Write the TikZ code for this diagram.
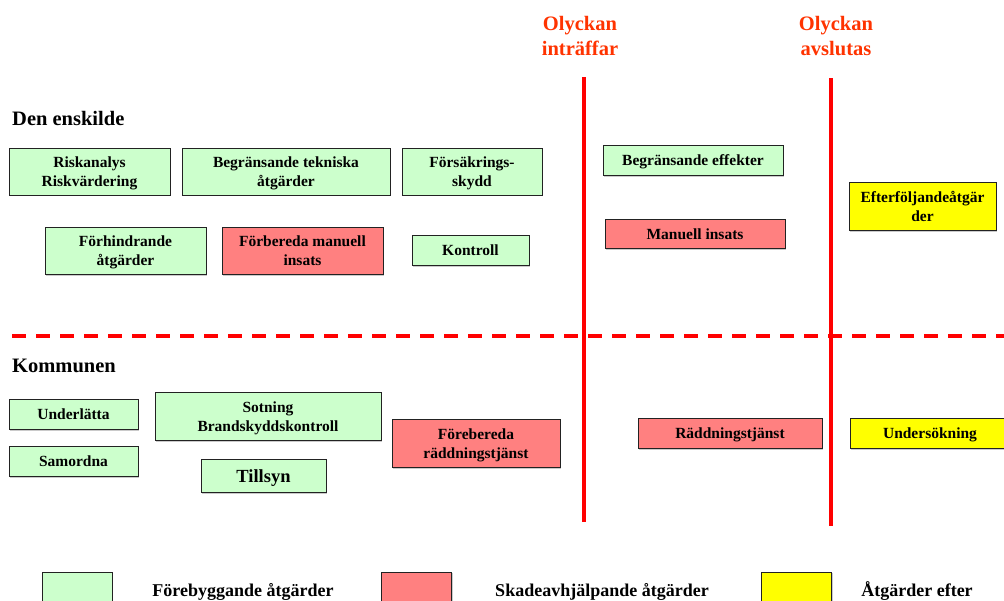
\documentclass[tikz,border=0pt]{standalone}
\usepackage{fontspec}
\setmainfont{Liberation Serif}
\usetikzlibrary{shadows}
\definecolor{pgreen}{HTML}{CCFFCC}
\definecolor{pred}{HTML}{FF8080}
\definecolor{pyellow}{HTML}{FFFF00}
\definecolor{ttl}{HTML}{FF3300}
\definecolor{bdr}{HTML}{222222}
\tikzset{
  box/.style={draw=bdr, line width=1pt, align=center, inner sep=2pt, text depth=0pt,
    font=\fontsize{15.5}{19}\selectfont\bfseries,
    drop shadow={shadow xshift=1.2pt, shadow yshift=-1.2pt, fill=black!35, opacity=0.6}},
  gbox/.style={box, fill=pgreen},
  rbox/.style={box, fill=pred},
  ybox/.style={box, fill=pyellow},
  sz/.style 2 args={minimum width=#1pt, minimum height=#2pt},
  ttlstyle/.style={text=ttl, align=center, font=\fontsize{20.5}{25}\selectfont\bfseries},
  head/.style={anchor=west, inner sep=0pt, font=\fontsize{20.5}{24}\selectfont\bfseries},
  legtext/.style={font=\fontsize{18}{22}\selectfont\bfseries},
  timeline/.style={red, line width=4pt},
  divider/.style={red, line width=4pt, dash pattern=on 14pt off 10pt}
}
\begin{document}
\begin{tikzpicture}[x=1pt,y=-1pt]
\useasboundingbox (0,0) rectangle (1004,600);
\clip (0,0) rectangle (1004,600);
% timelines
\coordinate (t1top) at (584,77);
\coordinate (t1bot) at (584,522);
\coordinate (t2top) at (831,78);
\coordinate (t2bot) at (831,526);
\coordinate (dl) at (12,336);
\coordinate (dr) at (1010,336);
\draw[divider] (dl) -- (dr);
\draw[timeline] (t1top) -- (t1bot);
\draw[timeline] (t2top) -- (t2bot);
% titles
\node[ttlstyle] (olinn) at (580,36) {Olyckan\\inträffar};
\node[ttlstyle] (olavs) at (836,36) {Olyckan\\avslutas};
\node[head] (enskilde) at (12,118) {Den enskilde};
\node[head] (kommunen) at (12,366) {Kommunen};
% den enskilde
\node[gbox, sz={161}{47}] (risk) at (89.5,171.5) {Riskanalys\\Riskvärdering};
\node[gbox, sz={208}{47}] (tek) at (286,171.5) {Begränsande tekniska\\åtgärder};
\node[gbox, sz={140}{47}] (fors) at (472,171.5) {Försäkrings-\\skydd};
\node[gbox, sz={161}{47}] (forh) at (125.5,251) {Förhindrande\\åtgärder};
\node[rbox, sz={161}{47}] (forb) at (302.5,251) {Förbereda manuell\\insats};
\node[gbox, sz={117}{30}] (kontroll) at (470.5,250.5) {Kontroll};
\node[gbox, sz={180}{30}] (begeff) at (693,160.5) {Begränsande effekter};
\node[rbox, sz={180}{29}] (manuell) at (695,234) {Manuell insats};
\node[ybox, sz={147}{48}] (efter) at (922.5,206.5) {Efterföljandeåtgär\\der};
% kommunen
\node[gbox, sz={129}{30}] (underlatta) at (73.5,414.5) {Underlätta};
\node[gbox, sz={129}{30}] (samordna) at (73.5,461.5) {Samordna};
\node[gbox, sz={226}{48}] (sotning) at (268,416.5) {Sotning\\Brandskyddskontroll};
\node[gbox, sz={125}{33}, font=\fontsize{18.5}{22}\selectfont\bfseries] (tillsyn) at (263.5,476) {Tillsyn};
\node[rbox, sz={168}{48}] (forebereda) at (476,443.5) {Förebereda\\räddningstjänst};
\node[rbox, sz={184}{30}] (radd) at (730,433.5) {Räddningstjänst};
\node[ybox, sz={160}{30}] (unders) at (930,433.5) {Undersökning};
% legend
\node[gbox, sz={70}{38}] (lg) at (77,591) {};
\node[rbox, sz={70}{38}] (lr) at (416.5,591) {};
\node[ybox, sz={70}{38}] (ly) at (796.5,591) {};
\node[legtext] (lgt) at (243,591.5) {Förebyggande åtgärder};
\node[legtext] (lrt) at (602,591.5) {Skadeavhjälpande åtgärder};
\node[legtext] (lyt) at (917,591.5) {Åtgärder efter};
\end{tikzpicture}
\end{document}
